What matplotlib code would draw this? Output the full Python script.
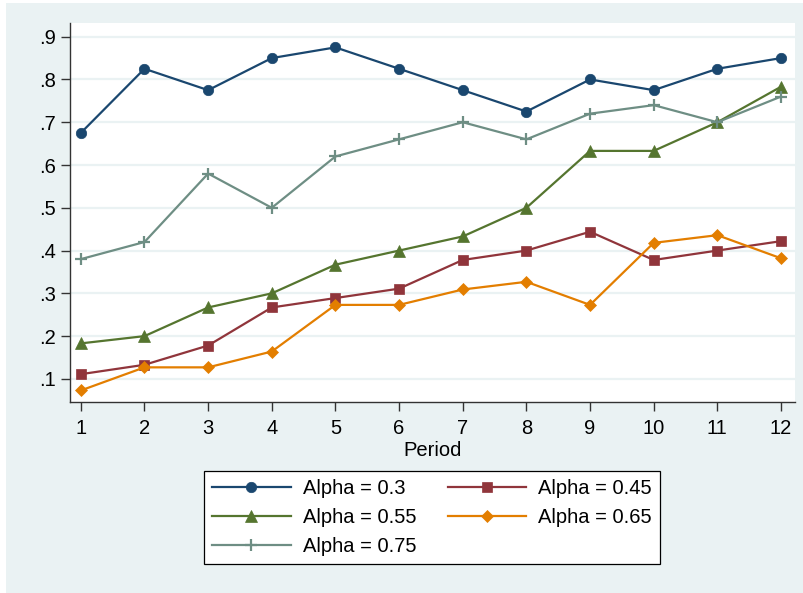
import numpy as np
import matplotlib
matplotlib.use('Agg')
import matplotlib.pyplot as plt
from matplotlib.patches import Rectangle

######################
# Data
periods = np.arange(1, 13)
alpha_030 = [0.675, 0.825, 0.775, 0.85, 0.875, 0.825, 0.775, 0.725, 0.80, 0.775, 0.825, 0.85]
alpha_045 = [0.111, 0.133, 0.178, 0.267, 0.289, 0.311, 0.378, 0.40, 0.444, 0.378, 0.40, 0.422]
alpha_055 = [0.183, 0.20, 0.267, 0.30, 0.367, 0.40, 0.433, 0.50, 0.633, 0.633, 0.70, 0.783]
alpha_065 = [0.073, 0.127, 0.127, 0.164, 0.273, 0.273, 0.309, 0.327, 0.273, 0.418, 0.436, 0.382]
alpha_075 = [0.38, 0.42, 0.58, 0.50, 0.62, 0.66, 0.70, 0.66, 0.72, 0.74, 0.70, 0.76]
yticks = [0.1, 0.2, 0.3, 0.4, 0.5, 0.6, 0.7, 0.8, 0.9]
ytick_labels = ['.1', '.2', '.3', '.4', '.5', '.6', '.7', '.8', '.9']

# Stata s2color palette
bg = '#EAF2F3'
series = [
    ('Alpha = 0.3', alpha_030, '#1A476F', 'o', 7.5),
    ('Alpha = 0.45', alpha_045, '#90353B', 's', 7.5),
    ('Alpha = 0.55', alpha_055, '#55752F', '^', 8.5),
    ('Alpha = 0.65', alpha_065, '#E37E00', 'D', 6.0),
    ('Alpha = 0.75', alpha_075, '#6E8E84', '+', 9.0),
]

plt.rcParams['font.family'] = ['Liberation Sans', 'DejaVu Sans']
fs = 14.5

fig = plt.figure(figsize=(8.04, 5.93), dpi=100)
fig.patch.set_facecolor('white')
# graph region (slightly inset from the top-left like the reference)
fig.patches.append(Rectangle((6 / 804, 0), 1, 1 - 3 / 593, transform=fig.transFigure,
                             facecolor=bg, edgecolor='none', zorder=-10))

ax = fig.add_axes([70 / 804, 1 - 402 / 593, 725 / 804, 379 / 593])
ax.set_facecolor('white')

handles = {}
for label, vals, color, marker, ms in series:
    mew = 1.6 if marker == '+' else 0.5
    h, = ax.plot(periods, vals, color=color, marker=marker, markersize=ms,
                 markeredgewidth=mew, markeredgecolor=color, linewidth=1.6,
                 label=label, clip_on=False, zorder=3)
    handles[label] = h

ax.set_xlim(0.83, 12.22)
ax.set_ylim(0.046, 0.932)
ax.set_xticks(periods)
ax.set_yticks(yticks)
ax.set_yticklabels(ytick_labels)
ax.grid(axis='y', color=bg, linewidth=1.6, zorder=0)
ax.set_axisbelow(True)

for side in ['top', 'right']:
    ax.spines[side].set_visible(False)
for side in ['left', 'bottom']:
    ax.spines[side].set_color('#333333')
    ax.spines[side].set_linewidth(1.0)
ax.tick_params(axis='both', direction='out', length=6.5, width=1.0, color='#333333',
               labelsize=fs, labelcolor='black', pad=3.5)
ax.tick_params(axis='x', pad=5.5)
ax.set_xlabel('Period', fontsize=fs, labelpad=2.5)

# legend: 2 columns, row order as in Stata
order = ['Alpha = 0.3', 'Alpha = 0.55', 'Alpha = 0.75', 'Alpha = 0.45', 'Alpha = 0.65']
leg = fig.legend([handles[k] for k in order], order, ncol=2,
                 loc='center', bbox_to_anchor=(432 / 804, 1 - 517.5 / 593),
                 fontsize=fs, frameon=True, fancybox=False, framealpha=1,
                 edgecolor='black', handlelength=3.9, handletextpad=0.6,
                 columnspacing=1.55, labelspacing=0.5, borderpad=0.4)
leg.get_frame().set_linewidth(0.9)

fig.savefig('out.png', dpi=100, facecolor=fig.get_facecolor())
